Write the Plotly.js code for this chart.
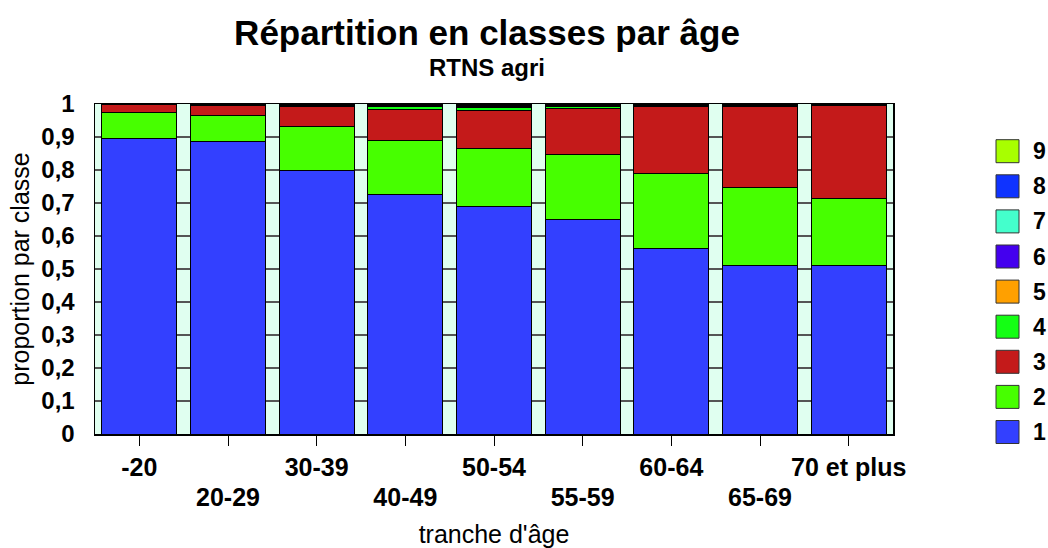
<!DOCTYPE html>
<html>
<head>
<meta charset="utf-8">
<script src="https://cdn.plot.ly/plotly-3.0.1.min.js"></script>
<style>html,body{margin:0;padding:0;background:#fff;}#chart{width:1048px;height:548px;}</style>
</head>
<body>
<div id="chart"></div>
<script>
// Categories (age bands)
const categories = ['-20', '20-29', '30-39', '40-49', '50-54', '55-59', '60-64', '65-69', '70 et plus'];

// Proportion per class
const class1 = [0.894, 0.887, 0.798, 0.725, 0.688, 0.649, 0.561, 0.512, 0.510];
const class2 = [0.079, 0.078, 0.133, 0.165, 0.176, 0.199, 0.227, 0.234, 0.205];
const class3 = [0.027, 0.029, 0.060, 0.094, 0.117, 0.139, 0.203, 0.245, 0.279];
const class4 = [0.000, 0.003, 0.004, 0.009, 0.007, 0.006, 0.004, 0.003, 0.002];
const class5 = [0.000, 0.001, 0.001, 0.002, 0.004, 0.003, 0.001, 0.001, 0.001];
const class6 = [0.000, 0.000, 0.001, 0.001, 0.002, 0.001, 0.001, 0.001, 0.001];
const class7 = [0.000, 0.000, 0.001, 0.001, 0.002, 0.001, 0.001, 0.001, 0.001];
const class8 = [0.000, 0.001, 0.001, 0.002, 0.002, 0.001, 0.001, 0.002, 0.001];
const class9 = [0.000, 0.001, 0.001, 0.001, 0.002, 0.001, 0.001, 0.001, 0.000];

const seriesNames = ['1', '2', '3', '4', '5', '6', '7', '8', '9'];
const seriesValues = [class1, class2, class3, class4, class5, class6, class7, class8, class9];
const seriesColors = ['#3340FF', '#47FF00', '#C41A1A', '#14FF14', '#FFA000', '#4400EE', '#44FFCC', '#0F33FF', '#A8FF00'];

const FONT = 'Arial, "Liberation Sans", sans-serif';

const traces = seriesValues.map((vals, i) => ({
  type: 'bar',
  name: seriesNames[i],
  x: categories,
  y: vals,
  marker: { color: seriesColors[i], line: { color: '#000', width: 1 } },
  showlegend: false,
  hoverinfo: 'x+y+name'
}));

// invisible helper trace so the second (label) x-axis is drawn
traces.push({
  type: 'scatter', mode: 'none', x: categories, y: class1,
  xaxis: 'x2', yaxis: 'y', showlegend: false, hoverinfo: 'skip'
});

const oddCats = categories.filter((c, i) => i % 2 === 1);

// Plot area geometry (pixels) for the hand-built legend
const W = 1048, H = 548, ML = 95, MR = 155, MT = 104, MB = 114;
const PW = W - ML - MR, PH = H - MT - MB;
const shapes = [], annotations = [];
seriesNames.forEach((n, i) => {
  const cy = 432 - i * 35.1;
  const px0 = 996, px1 = 1019, half = 11.5;
  shapes.push({
    type: 'rect', xref: 'paper', yref: 'paper',
    x0: (px0 - ML) / PW, x1: (px1 - ML) / PW,
    y0: (H - MB - (cy + half)) / PH, y1: (H - MB - (cy - half)) / PH,
    fillcolor: seriesColors[i], line: { color: '#333', width: 1 }
  });
  annotations.push({
    xref: 'paper', yref: 'paper', x: (1031 - ML) / PW, y: (H - MB - cy) / PH,
    xanchor: 'left', yanchor: 'middle', showarrow: false, text: n,
    font: { family: FONT, size: 23, color: '#000', weight: 'bold' }
  });
});
annotations.push({
  xref: 'paper', yref: 'paper', x: (487 - ML) / PW, y: (H - MB - 68) / PH,
  xanchor: 'center', yanchor: 'middle', showarrow: false, text: 'RTNS agri',
  font: { family: FONT, size: 24, color: '#000', weight: 'bold' }
});

const layout = {
  width: W, height: H,
  margin: { l: ML, r: MR, t: MT, b: MB, pad: 0 },
  paper_bgcolor: '#fff',
  plot_bgcolor: '#E0FFF0',
  separators: ', ',
  barmode: 'stack',
  bargap: 0.155,
  showlegend: false,
  font: { family: FONT, color: '#000' },
  title: {
    text: 'Répartition en classes par âge',
    font: { family: FONT, size: 35, color: '#000', weight: 'bold' },
    x: (487 - ML) / PW, xref: 'paper', xanchor: 'center',
    y: 1 - 33 / H, yref: 'container', yanchor: 'middle'
  },
  xaxis: {
    type: 'category', range: [-0.5, 8.5],
    tickmode: 'array', tickvals: categories,
    ticktext: categories.map((c, i) => (i % 2 === 0 ? c : '')),
    ticks: 'outside', ticklen: 10, tickcolor: '#000', tickwidth: 1,
    ticklabelstandoff: 0,
    tickfont: { family: FONT, size: 25, color: '#000', weight: 'bold' },
    showline: true, linecolor: '#000', linewidth: 1.5, mirror: true,
    showgrid: false, zeroline: false, fixedrange: true
  },
  xaxis2: {
    type: 'category', range: [-0.5, 8.5], overlaying: 'x', anchor: 'y', side: 'bottom',
    tickmode: 'array', tickvals: oddCats, ticktext: oddCats,
    ticks: '', ticklabelstandoff: 46,
    tickfont: { family: FONT, size: 25, color: '#000', weight: 'bold' },
    showline: false, showgrid: false, zeroline: false, fixedrange: true,
    title: { text: "tranche d'âge", font: { family: FONT, size: 25, color: '#000' }, standoff: 16 }
  },
  yaxis: {
    range: [0, 1], dtick: 0.1, tick0: 0,
    ticks: '', ticklabelstandoff: 14,
    tickfont: { family: FONT, size: 24, color: '#000', weight: 'bold' },
    showline: true, linecolor: '#000', linewidth: 1.5, mirror: true,
    showgrid: true, gridcolor: '#555', gridwidth: 1.5, zeroline: false, fixedrange: true,
    title: { text: 'proportion par classe', font: { family: FONT, size: 25, color: '#000' }, standoff: 4 }
  },
  shapes: shapes,
  annotations: annotations
};

Plotly.newPlot('chart', traces, layout, { displayModeBar: false, staticPlot: true });
</script>
</body>
</html>
